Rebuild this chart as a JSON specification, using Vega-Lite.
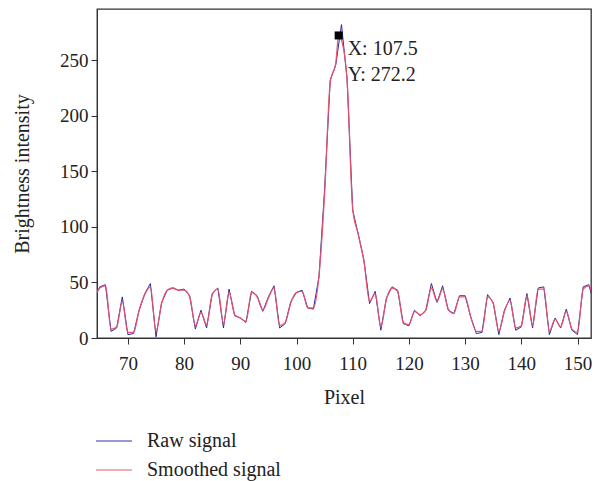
{
  "$schema": "https://vega.github.io/schema/vega-lite/v6.json",
  "autosize": "none",
  "width": 494,
  "height": 329,
  "padding": {"left": 97, "top": 9, "right": 9, "bottom": 143},
  "background": "white",
  "config": {
    "font": "Liberation Serif",
    "view": {"stroke": "#333333", "strokeWidth": 1.3},
    "axis": {
      "labelFont": "Liberation Serif",
      "titleFont": "Liberation Serif",
      "labelFontSize": 19,
      "titleFontSize": 20,
      "titleFontWeight": "normal",
      "labelColor": "#222222",
      "titleColor": "#222222",
      "domainColor": "#333333",
      "tickColor": "#333333",
      "tickSize": 6,
      "grid": false
    },
    "legend": {
      "labelFont": "Liberation Serif",
      "labelFontSize": 20,
      "labelColor": "#222222"
    }
  },
  "datasets": {
    "raw": [
      {"x":64,"y":35},{"x":65,"y":46},{"x":66,"y":48},{"x":67,"y":6},{"x":68,"y":9},{"x":69,"y":37},{"x":70,"y":3},{"x":71,"y":4},{"x":72,"y":25},{"x":73,"y":40},{"x":74,"y":49},{"x":75,"y":1},{"x":76,"y":32},{"x":77,"y":43},{"x":78,"y":45},{"x":79,"y":43},{"x":80,"y":44},{"x":81,"y":38},{"x":82,"y":8},{"x":83,"y":25},{"x":84,"y":9},{"x":85,"y":40},{"x":86,"y":45},{"x":87,"y":9},{"x":88,"y":44},{"x":89,"y":20},{"x":90,"y":18},{"x":91,"y":14},{"x":92,"y":42},{"x":93,"y":38},{"x":94,"y":24},{"x":95,"y":37},{"x":96,"y":47},{"x":97,"y":9},{"x":98,"y":13},{"x":99,"y":33},{"x":100,"y":41},{"x":101,"y":43},{"x":102,"y":27},{"x":103,"y":26},{"x":104,"y":55},{"x":105,"y":134},{"x":106,"y":232},{"x":107,"y":246},{"x":108,"y":282},{"x":109,"y":233},{"x":110,"y":115},{"x":111,"y":93},{"x":112,"y":70},{"x":113,"y":31},{"x":114,"y":42},{"x":115,"y":7},{"x":116,"y":36},{"x":117,"y":46},{"x":118,"y":43},{"x":119,"y":13},{"x":120,"y":11},{"x":121,"y":25},{"x":122,"y":20},{"x":123,"y":25},{"x":124,"y":49},{"x":125,"y":32},{"x":126,"y":47},{"x":127,"y":25},{"x":128,"y":22},{"x":129,"y":38},{"x":130,"y":38},{"x":131,"y":19},{"x":132,"y":4},{"x":133,"y":5},{"x":134,"y":39},{"x":135,"y":32},{"x":136,"y":3},{"x":137,"y":25},{"x":138,"y":36},{"x":139,"y":7},{"x":140,"y":10},{"x":141,"y":40},{"x":142,"y":9},{"x":143,"y":45},{"x":144,"y":46},{"x":145,"y":3},{"x":146,"y":18},{"x":147,"y":9},{"x":148,"y":26},{"x":149,"y":7},{"x":150,"y":3},{"x":151,"y":46},{"x":152,"y":48},{"x":153,"y":30}
    ],
    "smooth": [
      {"x":64,"y":36},{"x":65,"y":45},{"x":66,"y":47},{"x":67,"y":8},{"x":68,"y":10},{"x":69,"y":33},{"x":70,"y":5},{"x":71,"y":5},{"x":72,"y":25},{"x":73,"y":39},{"x":74,"y":46},{"x":75,"y":6},{"x":76,"y":31},{"x":77,"y":43},{"x":78,"y":45},{"x":79,"y":43},{"x":80,"y":43},{"x":81,"y":37},{"x":82,"y":11},{"x":83,"y":23},{"x":84,"y":12},{"x":85,"y":39},{"x":86,"y":44},{"x":87,"y":13},{"x":88,"y":41},{"x":89,"y":21},{"x":90,"y":18},{"x":91,"y":15},{"x":92,"y":41},{"x":93,"y":37},{"x":94,"y":25},{"x":95,"y":36},{"x":96,"y":45},{"x":97,"y":11},{"x":98,"y":14},{"x":99,"y":32},{"x":100,"y":41},{"x":101,"y":42},{"x":102,"y":27},{"x":103,"y":27},{"x":104,"y":56},{"x":105,"y":130},{"x":106,"y":230},{"x":107,"y":248},{"x":107.5,"y":272.2},{"x":108,"y":268},{"x":109,"y":232},{"x":110,"y":116},{"x":111,"y":93},{"x":112,"y":69},{"x":113,"y":33},{"x":114,"y":40},{"x":115,"y":10},{"x":116,"y":35},{"x":117,"y":45},{"x":118,"y":42},{"x":119,"y":14},{"x":120,"y":12},{"x":121,"y":24},{"x":122,"y":21},{"x":123,"y":25},{"x":124,"y":45},{"x":125,"y":33},{"x":126,"y":44},{"x":127,"y":26},{"x":128,"y":22},{"x":129,"y":37},{"x":130,"y":37},{"x":131,"y":19},{"x":132,"y":6},{"x":133,"y":6},{"x":134,"y":37},{"x":135,"y":31},{"x":136,"y":6},{"x":137,"y":24},{"x":138,"y":34},{"x":139,"y":9},{"x":140,"y":11},{"x":141,"y":38},{"x":142,"y":11},{"x":143,"y":44},{"x":144,"y":44},{"x":145,"y":6},{"x":146,"y":17},{"x":147,"y":10},{"x":148,"y":24},{"x":149,"y":8},{"x":150,"y":5},{"x":151,"y":44},{"x":152,"y":47},{"x":153,"y":31}
    ],
    "peak": [
      {"x":107.5,"y":272.2,"label":"X: 107.5\nY: 272.2"}
    ]
  },
  "layer": [
    {
      "data": {"name": "raw"},
      "mark": {"type": "line", "strokeWidth": 1, "clip": true},
      "encoding": {
        "x": {"field": "x", "type": "quantitative", "scale": {"domain": [64.5, 152.4], "nice": false, "zero": false},
              "axis": {"title": "Pixel", "values": [70,80,90,100,110,120,130,140,150], "labelPadding": 10, "titlePadding": 14}},
        "y": {"field": "y", "type": "quantitative", "scale": {"domain": [0, 296], "nice": false},
              "axis": {"title": "Brightness intensity", "values": [0,50,100,150,200,250], "labelPadding": 3, "titlePadding": 27}},
        "color": {"datum": "Raw signal", "type": "nominal",
                  "scale": {"domain": ["Raw signal", "Smoothed signal"], "range": ["#2a2a9e", "#e8506e"]},
                  "legend": {"title": null, "orient": "none", "legendX": -2, "legendY": 413, "symbolType": "stroke", "symbolSize": 1296, "symbolStrokeWidth": 1.2, "labelOffset": 14, "rowPadding": -3}}
      }
    },
    {
      "data": {"name": "smooth"},
      "mark": {"type": "line", "strokeWidth": 1.3, "clip": true, "opacity": 0.95, "interpolate": "monotone"},
      "encoding": {
        "x": {"field": "x", "type": "quantitative"},
        "y": {"field": "y", "type": "quantitative"},
        "color": {"datum": "Smoothed signal", "type": "nominal"}
      }
    },
    {
      "data": {"name": "peak"},
      "mark": {"type": "square", "size": 64, "color": "#000000", "filled": true, "opacity": 1},
      "encoding": {
        "x": {"field": "x", "type": "quantitative"},
        "y": {"field": "y", "type": "quantitative"}
      }
    },
    {
      "data": {"name": "peak"},
      "mark": {"type": "text", "align": "left", "baseline": "top", "dx": 9, "dy": 4, "lineBreak": "\n", "lineHeight": 26, "fontSize": 20, "font": "Liberation Serif", "color": "#222222"},
      "encoding": {
        "x": {"field": "x", "type": "quantitative"},
        "y": {"field": "y", "type": "quantitative"},
        "text": {"field": "label"}
      }
    }
  ]
}
